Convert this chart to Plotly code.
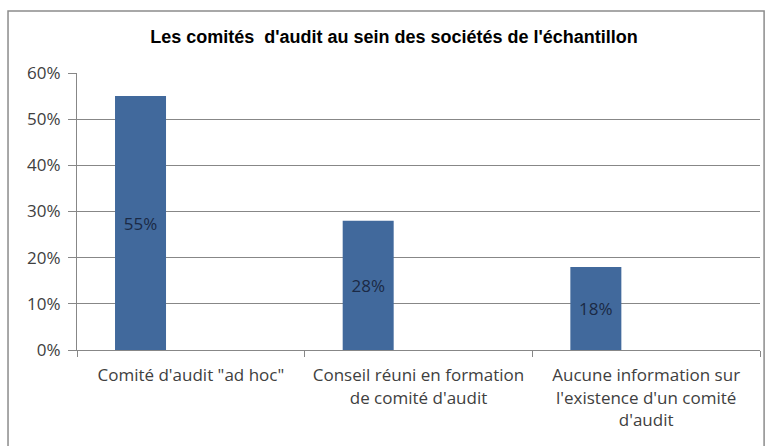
import plotly.graph_objects as go

categories = [
    "Comité d'audit \"ad hoc\"",
    "Conseil réuni en formation<br>de comité d'audit",
    "Aucune information sur<br>l'existence d'un comité<br>d'audit",
]
values = [0.55, 0.28, 0.18]
labels = ["55%", "28%", "18%"]

BAR = "#41699C"
GRID = "#878787"
TXT = "#404040"
FONT = "Open Sans, Liberation Sans, Arial"

fig = go.Figure()
fig.add_bar(
    x=categories,
    y=values,
    text=labels,
    textposition="inside",
    insidetextanchor="middle",
    textfont=dict(family=FONT, size=17, color="#1B2A45"),
    marker=dict(color=BAR, line_width=0),
    offset=-0.333,
    width=0.224,
    hoverinfo="skip",
)

fig.update_layout(
    width=771,
    height=446,
    margin=dict(l=77, r=11, t=73, b=96),
    paper_bgcolor="white",
    plot_bgcolor="white",
    showlegend=False,
    title=dict(
        text="<b>Les comités  d'audit au sein des sociétés de l'échantillon</b>",
        x=394 / 771,
        xref="container",
        xanchor="center",
        y=1 - 37 / 446,
        yref="container",
        yanchor="middle",
        font=dict(family="Liberation Sans, Arial", size=18, color="black"),
    ),
)

fig.update_xaxes(
    type="category",
    range=[-0.5, 2.5],
    tickson="boundaries",
    ticks="outside",
    ticklen=6,
    tickcolor=GRID,
    showline=True,
    linecolor=GRID,
    linewidth=1,
    showgrid=False,
    ticklabelstandoff=10,
    tickfont=dict(family=FONT, size=17, color=TXT),
)
fig.update_yaxes(
    range=[0, 0.6],
    dtick=0.1,
    tickformat=".0%",
    ticks="outside",
    ticklen=8,
    tickcolor=GRID,
    showline=True,
    linecolor=GRID,
    gridcolor=GRID,
    gridwidth=1,
    zeroline=False,
    ticklabelstandoff=4,
    tickfont=dict(family=FONT, size=17, color=TXT),
)

# outer chart border
fig.add_shape(
    type="rect",
    xref="paper",
    yref="paper",
    x0=-0.101,
    x1=1.006,
    y0=-0.4,
    y1=1.224,
    line=dict(color="#8C8C8C", width=1.5),
    fillcolor="rgba(0,0,0,0)",
    layer="below",
)

fig.write_html(
    "out.html",
    config={"displayModeBar": False},
    post_script="document.body.style.margin='0';",
)
